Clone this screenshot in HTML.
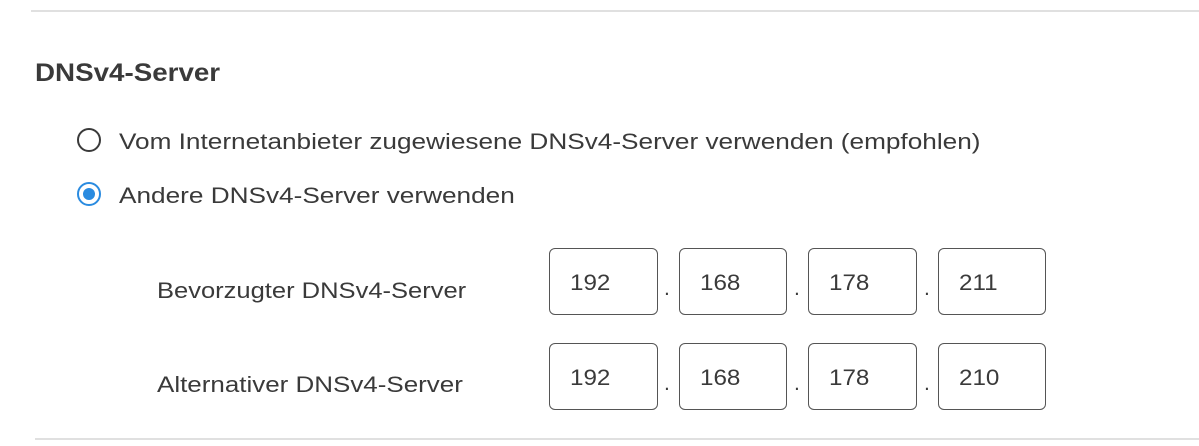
<!DOCTYPE html>
<html><head><style>
body{margin:0;width:1199px;height:446px;background:#fff;position:relative;overflow:hidden;font-family:"Liberation Sans",sans-serif;color:#3a3a3a}
.a{position:absolute;white-space:nowrap;transform-origin:0 50%}
.ln{position:absolute;height:2px;background:#e0e0e0}
.r{position:absolute;width:20px;height:20px;border-radius:50%;border:2.5px solid #3a3a3a}
.b{position:absolute;height:67px;border:1px solid #555;border-radius:6px;box-sizing:border-box;font-size:22px;line-height:68px;padding-left:20px}
.b span{display:inline-block;transform:scaleX(1.1);transform-origin:0 50%}
.d{position:absolute;font-size:21px}
</style></head><body>
<div class="ln" style="left:31px;top:10px;width:1168px"></div>
<div class="ln" style="left:35px;top:438px;width:1164px"></div>
<div class="a" style="left:35px;top:59px;font-size:25px;font-weight:bold;transform:scaleX(1.11)">DNSv4-Server</div>
<div class="r" style="left:77px;top:128px"></div>
<div class="a" style="left:119px;top:129px;font-size:22px;transform:scaleX(1.19)">Vom Internetanbieter zugewiesene DNSv4-Server verwenden (empfohlen)</div>
<div class="r" style="left:77px;top:182px;border-color:#2a8be0"><div style="position:absolute;left:4px;top:4px;width:12px;height:12px;border-radius:50%;background:#2a8be0"></div></div>
<div class="a" style="left:119px;top:183px;font-size:22px;transform:scaleX(1.19)">Andere DNSv4-Server verwenden</div>
<div class="a" style="left:157px;top:278px;font-size:22px;transform:scaleX(1.16)">Bevorzugter DNSv4-Server</div>
<div class="a" style="left:157px;top:372px;font-size:22px;transform:scaleX(1.18)">Alternativer DNSv4-Server</div>
<div class="b" style="left:549px;top:248px;width:109px"><span>192</span></div>
<div class="b" style="left:679px;top:248px;width:108px"><span>168</span></div>
<div class="b" style="left:808px;top:248px;width:109px"><span>178</span></div>
<div class="b" style="left:938px;top:248px;width:108px"><span>211</span></div>
<div class="b" style="left:549px;top:343px;width:109px"><span>192</span></div>
<div class="b" style="left:679px;top:343px;width:108px"><span>168</span></div>
<div class="b" style="left:808px;top:343px;width:109px"><span>178</span></div>
<div class="b" style="left:938px;top:343px;width:108px"><span>210</span></div>
<div class="d" style="left:664px;top:277px">.</div><div class="d" style="left:794px;top:277px">.</div><div class="d" style="left:924px;top:277px">.</div>
<div class="d" style="left:664px;top:372px">.</div><div class="d" style="left:794px;top:372px">.</div><div class="d" style="left:924px;top:372px">.</div>
</body></html>
